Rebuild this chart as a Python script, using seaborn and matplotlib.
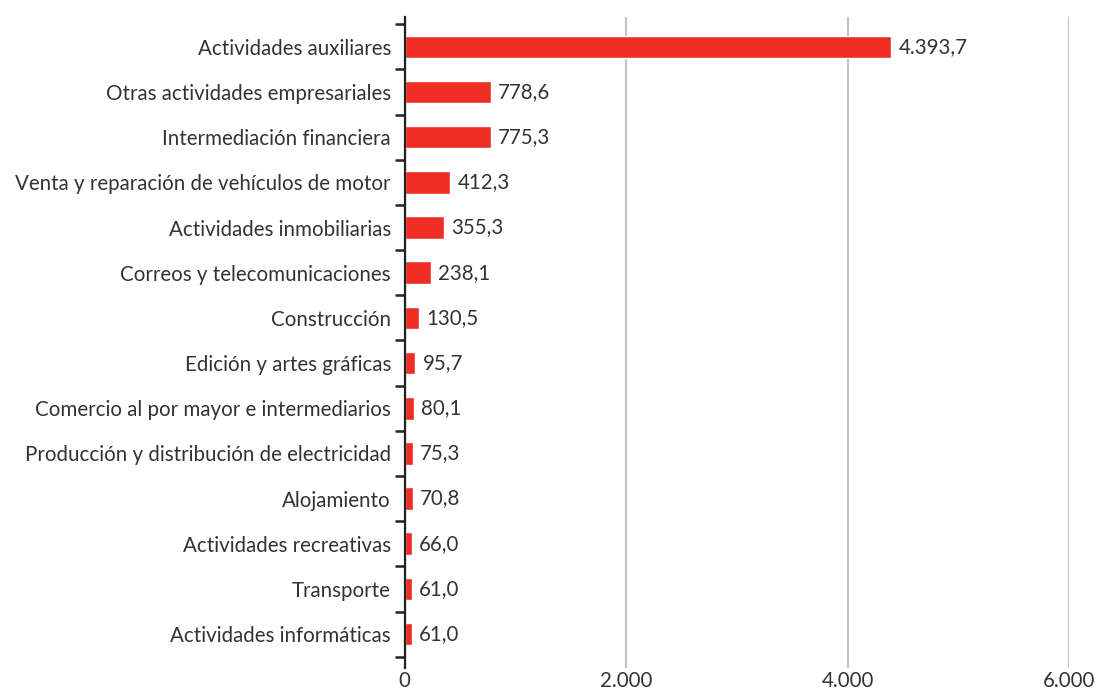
from matplotlib import pyplot as plt
from matplotlib.ticker import FixedLocator
import numpy as np
import pandas as pd
import seaborn as sns

categories = [
    "Actividades auxiliares",
    "Otras actividades empresariales",
    "Intermediación financiera",
    "Venta y reparación de vehículos de motor",
    "Actividades inmobiliarias",
    "Correos y telecomunicaciones",
    "Construcción",
    "Edición y artes gráficas",
    "Comercio al por mayor e intermediarios",
    "Producción y distribución de electricidad",
    "Alojamiento",
    "Actividades recreativas",
    "Transporte",
    "Actividades informáticas",
]
values = [4393.7, 778.6, 775.3, 412.3, 355.3, 238.1, 130.5, 95.7, 80.1, 75.3, 70.8, 66.0, 61.0, 61.0]
x_ticks = [0, 2000, 4000, 6000]
x_tick_labels = ["0", "2.000", "4.000", "6.000"]


def es_format(v):
    s = f"{v:,.1f}"
    return s.replace(",", "X").replace(".", ",").replace("X", ".")


df = pd.DataFrame({"sector": categories, "valor": values})

sns.set_style("white")
plt.rcParams["font.family"] = ["Lato", "DejaVu Sans"]
text_color = "#333333"
font_size = 14.8

fig = plt.figure(figsize=(10.97, 6.89), dpi=100)
ax = fig.add_axes([0.369, 0.0305, 0.6055, 0.9448])

sns.barplot(data=df, x="valor", y="sector", orient="h", color="#EE2E24",
            saturation=1, width=0.5, ax=ax)

# value labels next to each bar
for i, v in enumerate(values):
    ax.text(v + 65, i, es_format(v), va="center", ha="left",
            fontsize=font_size, color=text_color)

ax.set_xlim(0, 6000)
ax.set_ylim(13.75, -0.66)
ax.set_xticks(x_ticks)
ax.set_xticklabels(x_tick_labels, fontsize=font_size, color=text_color)
ax.xaxis.grid(True, color="#c4c4c4", linewidth=1.6)
ax.set_axisbelow(True)
ax.tick_params(axis="x", length=0, pad=2)
ax.tick_params(axis="y", which="major", left=True, length=0, pad=10,
               labelsize=font_size, labelcolor=text_color)
ax.yaxis.set_minor_locator(FixedLocator(np.arange(-0.5, len(categories), 1)))
ax.tick_params(axis="y", which="minor", left=True, length=7, width=1.8,
               color="#222222", direction="out")
ax.set_xlabel("")
ax.set_ylabel("")

for side in ["top", "right", "bottom"]:
    ax.spines[side].set_visible(False)
ax.spines["left"].set_color("#222222")
ax.spines["left"].set_linewidth(1.6)

fig.savefig("out.png", dpi=100)
